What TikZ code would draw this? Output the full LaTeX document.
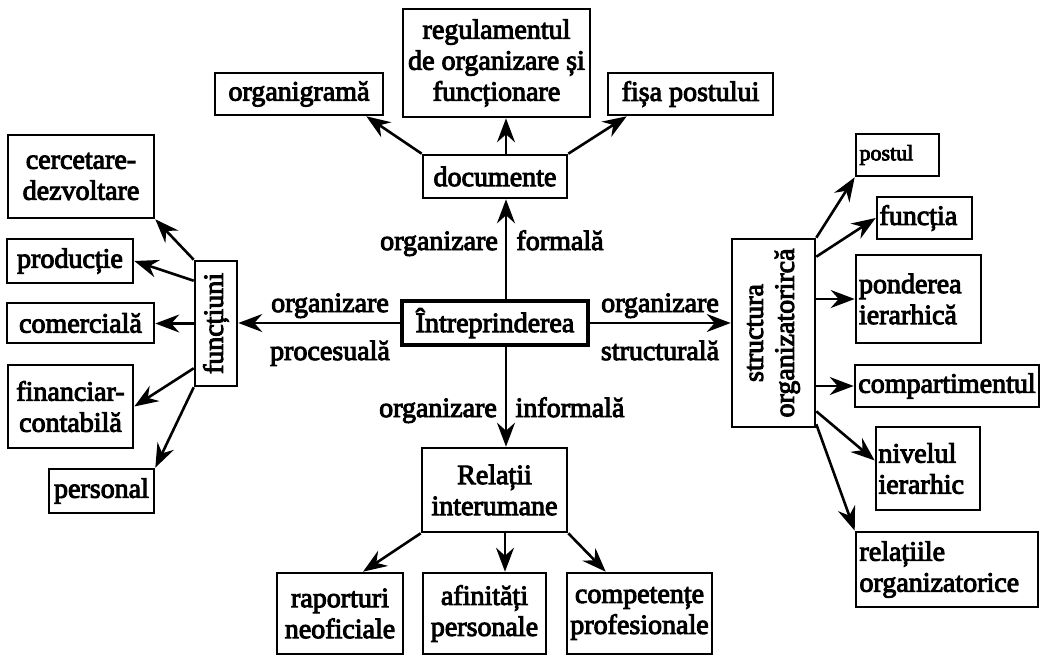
\documentclass[tikz,border=0pt]{standalone}
\usepackage{fontspec}
\usetikzlibrary{arrows.meta}
\newfontfamily\diagfont{Liberation Serif}[FakeBold=3.5]

\begin{document}
\begin{tikzpicture}[x=1pt,y=-1pt,
  every node/.style={font=\diagfont\fontsize{28}{31}\selectfont},
  box/.style={draw, line width=2.6pt, inner sep=0pt, align=center},
  lbox/.style={box, align=left},
  lbl/.style={inner sep=0pt, anchor=base},
  arr/.style={line width=2.6pt, -{Stealth[length=24pt,width=18pt,inset=8pt]}}
]
\useasboundingbox (0,0) rectangle (1047,659);

% central node
\node[box, line width=4pt, minimum width=186pt, minimum height=44pt] (intr) at (495,323) {Întreprinderea};

% formal organisation: documents
\node[box, minimum width=144pt, minimum height=43pt] (doc) at (495,176.5) {documente};
\node[box, minimum width=168pt, minimum height=42pt] (org) at (299,94) {organigramă};
\node[box, minimum width=187pt, minimum height=108pt] (reg) at (496.5,63) {regulamentul\\de organizare și\\funcționare};
\node[box, minimum width=165pt, minimum height=42pt] (fisa) at (690.5,94) {fișa postului};

% informal organisation
\node[box, minimum width=145pt, minimum height=84pt] (rel) at (494.5,490) {Relații\\interumane};
\node[box, minimum width=126pt, minimum height=81pt] (rap) at (340,613.5) {raporturi\\neoficiale};
\node[box, minimum width=123pt, minimum height=81pt] (afi) at (484.5,613.5) {afinități\\personale};
\node[box, minimum width=145pt, minimum height=81pt] (comp) at (639.5,613.5) {competențe\\profesionale};

% process organisation: functions
\node[box, rotate=90, minimum width=125pt, minimum height=42pt] (func) at (216,323.5) {funcțiuni};
\node[box, minimum width=146pt, minimum height=83pt] (cerc) at (81,176.5) {cercetare-\\dezvoltare};
\node[box, minimum width=126pt, minimum height=44pt] (prod) at (70,261) {producție};
\node[box, minimum width=147pt, minimum height=40pt] (com) at (80.5,323) {comercială};
\node[box, minimum width=125pt, minimum height=83pt] (fin) at (70.5,406.5) {financiar-\\contabilă};
\node[box, minimum width=105pt, minimum height=44pt] (pers) at (101.5,491) {personal};

% structural organisation
\node[box, rotate=90, minimum width=188pt, minimum height=83pt] (str) at (773.5,333) {structura\\organizatorircă};
\node[lbox, minimum width=83pt, text width=76pt, minimum height=42pt,
      font=\diagfont\fontsize{22}{26}\selectfont] (postul) at (897.5,155) {postul};
\node[lbox, minimum width=95pt, text width=90pt, minimum height=42pt] (fcta) at (924.5,218) {funcția};
\node[lbox, minimum width=125pt, text width=119pt, minimum height=88pt] (pond) at (918.5,299) {ponderea\\ierarhică};
\node[box, minimum width=184pt, minimum height=42pt] (cmpt) at (947,386) {compartimentul};
\node[lbox, minimum width=104pt, text width=99pt, minimum height=83pt] (niv) at (928,468.5) {nivelul\\ierarhic};
\node[lbox, minimum width=182pt, text width=175pt, minimum height=75pt] (rlo) at (947,569.5) {relațiile\\organizatorice};

% connector labels
\node[lbl] (lp1) at (330,312) {organizare};
\node[lbl] (lp2) at (330,360) {procesuală};
\node[lbl] (ls1) at (660,312) {organizare};
\node[lbl] (ls2) at (660,360) {structurală};
\node[lbl] (lf1) at (439,250) {organizare};
\node[lbl] (lf2) at (560,250) {formală};
\node[lbl] (li1) at (438,417) {organizare};
\node[lbl] (li2) at (570,417) {informală};

% main connectors
\draw[arr] ([xshift=11pt]intr.north) -- ([xshift=11pt]doc.south);
\draw[arr] ([xshift=11pt]intr.south) -- ([xshift=11.5pt]rel.north);
\draw[arr] (intr.west) -- (intr.west -| func.south);
\draw[arr] (intr.east) -- (intr.east -| str.north);

% documents
\draw[arr] (doc.north west) -- ([xshift=-18pt]org.south east);
\draw[arr] ([xshift=11pt]doc.north) -- ([xshift=9.5pt]reg.south);
\draw[arr] (doc.north east) -- ([xshift=20pt]fisa.south west);

% interpersonal relations
\draw[arr] (rel.south west) -- ([xshift=23pt]rap.north);
\draw[arr] ([xshift=10.5pt]rel.south) -- ([xshift=20.5pt]afi.north);
\draw[arr] (rel.south east) -- ([xshift=40pt]comp.north west);

% functions
\draw[arr] (func.north east) -- (cerc.south east);
\draw[arr] ([yshift=-21pt]func.north east) -- (prod.east);
\draw[arr] (func.north) -- (func.north -| com.east);
\draw[arr] ([yshift=19pt]func.north west) -- (fin.east);
\draw[arr] (func.north west) -- (pers.north east);

% organisational structure
\draw[arr] (str.south east) -- (postul.south west);
\draw[arr] ([yshift=-19pt]str.south east) -- (fcta.west);
\draw[arr] (str.south |- pond.west) -- (pond.west);
\draw[arr] (str.south |- cmpt.west) -- (cmpt.west);
\draw[arr] ([yshift=17pt]str.south west) -- ([yshift=8pt]niv.west);
\draw[arr] ([yshift=4pt]str.south west) -- (rlo.north west);
\end{tikzpicture}
\end{document}
